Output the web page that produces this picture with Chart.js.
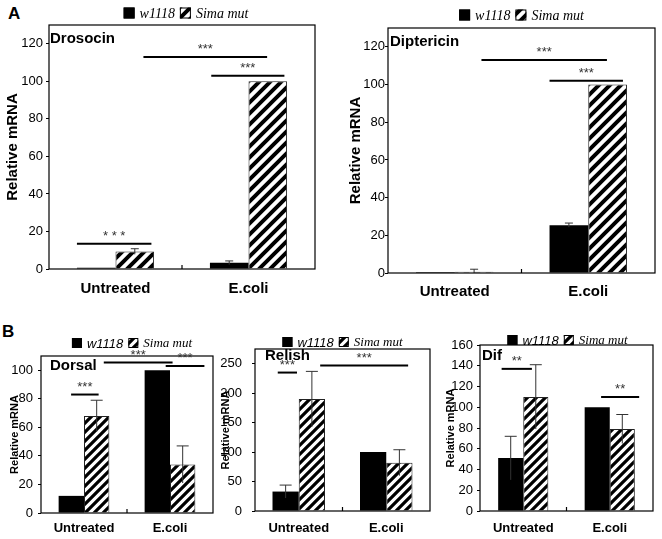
<!DOCTYPE html>
<html lang="en">
<head>
<meta charset="UTF-8">
<title>Relative mRNA</title>
<script src="https://cdn.jsdelivr.net/npm/chart.js"></script>
<style>
  body { margin: 0; background: #fff; }
  #wrap { position: relative; width: 662px; height: 539px; overflow: hidden; }
  canvas { position: absolute; }
  .tag { position: absolute; font: bold 17px "Liberation Sans", Arial, sans-serif; }
</style>
</head>
<body>
<div id="wrap">
  <div class="tag" style="left:8px;top:4px">A</div>
  <div class="tag" style="left:2px;top:322px">B</div>
  <canvas id="drosocin" width="330" height="300" style="left:0;top:0"></canvas>
  <canvas id="diptericin" width="319" height="300" style="left:343px;top:0"></canvas>
  <canvas id="dorsal" width="222" height="229" style="left:0;top:310px"></canvas>
  <canvas id="relish" width="222" height="229" style="left:219px;top:310px"></canvas>
  <canvas id="dif" width="218" height="229" style="left:444px;top:310px"></canvas>
</div>

<script>
// datos
const categories = ['Untreated', 'E.coli'];
const seriesNames = ['w1118', 'Sima mut'];

// panel A
const drosocinWt = [0.6, 3.3];
const drosocinWtErr = [0, 1.0];
const drosocinSima = [9.3, 100];
const drosocinSimaErr = [1.5, 0];
const drosocinSig = [[-0.29, 0.27, 13.4, '* * *'], [0.21, 1.14, 113, '***'], [0.72, 1.27, 103, '***']];

const diptericinWt = [0.5, 25.4];
const diptericinWtErr = [0, 1.1];
const diptericinSima = [0.7, 100];
const diptericinSimaErr = [1.3, 0];
const diptericinSig = [[0.20, 1.14, 113, '***'], [0.71, 1.26, 102, '***']];

// panel B
const dorsalWt = [12, 100];
const dorsalWtErr = [0, 0];
const dorsalSima = [68, 34];
const dorsalSimaErr = [11, 13];
const dorsalSig = [[-0.15, 0.17, 83, '***'], [0.23, 1.03, 105.5, '***'], [0.95, 1.40, 103, '***']];

const relishWt = [33, 100];
const relishWtErr = [11, 0];
const relishSima = [190, 82];
const relishSimaErr = [47, 22];
const relishSig = [[-0.24, -0.02, 235, '***'], [0.245, 1.25, 247, '***']];

const difWt = [51, 100];
const difWtErr = [21, 0];
const difSima = [110, 79];
const difSimaErr = [31, 14];
const difSig = [[-0.25, 0.10, 137, '**'], [0.90, 1.34, 110, '**']];

Chart.defaults.font.family = '"Liberation Sans", Arial, sans-serif';
Chart.defaults.color = '#000';

function hatch(size, width) {
  const c = document.createElement('canvas');
  c.width = size; c.height = size;
  const g = c.getContext('2d');
  g.fillStyle = '#fff';
  g.fillRect(0, 0, size, size);
  g.strokeStyle = '#000';
  g.lineWidth = width;
  g.beginPath();
  g.moveTo(0, size); g.lineTo(size, 0);
  g.moveTo(-size / 2, size / 2); g.lineTo(size / 2, -size / 2);
  g.moveTo(size / 2, size * 1.5); g.lineTo(size * 1.5, size / 2);
  g.stroke();
  return g.createPattern(c, 'repeat');
}

// barras de error, marco, asteriscos, titulo y leyenda
const decor = {
  id: 'decor',
  afterDatasetsDraw(chart, args, o) {
    const { ctx, chartArea: a, scales: { x, y } } = chart;
    ctx.save();

    chart.data.datasets.forEach((ds, i) => {
      chart.getDatasetMeta(i).data.forEach((bar, j) => {
        const e = ds.errors[j];
        if (!e) return;
        const v = ds.data[j];
        const top = y.getPixelForValue(v + e);
        const bot = y.getPixelForValue(Math.max(0, v - e));
        ctx.strokeStyle = '#333';
        ctx.lineWidth = 1;
        ctx.beginPath();
        ctx.moveTo(bar.x, bot); ctx.lineTo(bar.x, top);
        ctx.moveTo(bar.x - o.cap, top); ctx.lineTo(bar.x + o.cap, top);
        ctx.stroke();
      });
    });

    ctx.strokeStyle = '#000';
    ctx.lineWidth = 1.2;
    ctx.strokeRect(a.left, a.top, a.right - a.left, a.bottom - a.top);
    const mx = x.getPixelForValue(0.5);
    ctx.beginPath(); ctx.moveTo(mx, a.bottom); ctx.lineTo(mx, a.bottom - 4); ctx.stroke();

    ctx.lineWidth = 2;
    ctx.fillStyle = '#333';
    ctx.font = '13px "Liberation Sans", Arial';
    ctx.textAlign = 'center';
    ctx.textBaseline = 'bottom';
    o.sig.forEach(([x0, x1, v, t]) => {
      const p0 = x.getPixelForValue(x0), p1 = x.getPixelForValue(x1), py = y.getPixelForValue(v);
      ctx.beginPath(); ctx.moveTo(p0, py); ctx.lineTo(p1, py); ctx.stroke();
      ctx.fillText(t, (p0 + p1) / 2, py - 1);
    });

    ctx.fillStyle = '#000';
    ctx.font = 'bold 15px "Liberation Sans", Arial';
    ctx.textAlign = 'left';
    ctx.textBaseline = 'middle';
    ctx.fillText(o.name, a.left + o.nameDx, a.top + o.nameDy);

    // leyenda
    const items = chart.data.datasets.map((ds, i) => {
      ctx.font = o.legendFonts[i];
      return { ds, w: ctx.measureText(ds.label).width, font: o.legendFonts[i] };
    });
    const total = items.reduce((s, it) => s + o.box + 5 + it.w, 0) + 5 * (items.length - 1);
    let lx = (a.left + a.right) / 2 - total / 2 + o.legendDx;
    const ly = a.top - o.legendDy;
    items.forEach(it => {
      ctx.fillStyle = it.ds.backgroundColor;
      ctx.fillRect(lx, ly - o.box / 2, o.box, o.box);
      ctx.strokeStyle = '#000';
      ctx.lineWidth = 1;
      ctx.strokeRect(lx + 0.5, ly - o.box / 2 + 0.5, o.box - 1, o.box - 1);
      lx += o.box + 5;
      ctx.fillStyle = '#000';
      ctx.font = it.font;
      ctx.fillText(it.ds.label, lx, ly + 1);
      lx += it.w + 5;
    });
    ctx.restore();
  }
};

function panel(id, p) {
  const stripes = hatch(p.hatch, p.hatch * 0.36);
  new Chart(document.getElementById(id), {
    type: 'bar',
    data: {
      labels: categories,
      datasets: [
        { label: seriesNames[0], data: p.wt, errors: p.wtErr, backgroundColor: '#000', borderColor: '#000', borderWidth: 0,
          categoryPercentage: p.group, barPercentage: 1 },
        { label: seriesNames[1], data: p.sima, errors: p.simaErr, backgroundColor: stripes, borderColor: '#222', borderWidth: 1,
          categoryPercentage: p.group, barPercentage: 1 }
      ]
    },
    options: {
      responsive: false,
      animation: false,
      layout: { padding: { top: p.padTop, right: p.padRight, left: 0, bottom: 0 } },
      plugins: {
        legend: { display: false },
        tooltip: { enabled: false },
        decor: { sig: p.sig, cap: p.cap, name: p.name, nameDx: p.nameDx, nameDy: p.nameDy,
          legendFonts: p.legendFonts, box: p.box, legendDx: p.legendDx, legendDy: p.legendDy }
      },
      scales: {
        x: {
          grid: { display: false, drawTicks: false },
          border: { display: false },
          ticks: { font: { size: p.xSize, weight: 'bold' }, padding: p.xPad },
          afterFit: s => { s.height = p.xHeight; }
        },
        y: {
          min: 0, max: p.max,
          ticks: { stepSize: p.step, font: { size: 13 }, padding: p.yPad },
          grid: { drawOnChartArea: false, tickLength: 3, color: '#000' },
          border: { display: false },
          title: { display: true, text: 'Relative mRNA', font: { size: p.titleSize, weight: 'bold' },
            padding: { top: p.titlePad, bottom: 0 } },
          afterBuildTicks: s => { s.ticks = s.ticks.filter(t => t.value % p.step === 0); },
          afterFit: s => { s.width = p.yWidth; }
        }
      }
    },
    plugins: [decor]
  });
}

const fontsA = ['italic 14px "Liberation Serif", serif', 'italic 14px "Liberation Serif", serif'];
const fontsB = ['italic 13px "Liberation Sans", Arial', 'italic 13px "Liberation Serif", serif'];

panel('drosocin', { wt: drosocinWt, wtErr: drosocinWtErr, sima: drosocinSima, simaErr: drosocinSimaErr, sig: drosocinSig,
  name: 'Drosocin', nameDx: 1, nameDy: 14, max: 130, step: 20, padTop: 25, padRight: 15, yWidth: 49, xHeight: 31,
  xSize: 15, xPad: 11, yPad: 3, titleSize: 15, titlePad: 4, group: 0.58, hatch: 11, cap: 4,
  legendFonts: fontsA, box: 11, legendDx: 4, legendDy: 12 });

panel('diptericin', { wt: diptericinWt, wtErr: diptericinWtErr, sima: diptericinSima, simaErr: diptericinSimaErr, sig: diptericinSig,
  name: 'Diptericin', nameDx: 2, nameDy: 14, max: 130, step: 20, padTop: 28, padRight: 7, yWidth: 45, xHeight: 27,
  xSize: 15, xPad: 10, yPad: 0, titleSize: 15, titlePad: 4, group: 0.58, hatch: 11, cap: 4,
  legendFonts: fontsA, box: 11, legendDx: 0, legendDy: 13 });

panel('dorsal', { wt: dorsalWt, wtErr: dorsalWtErr, sima: dorsalSima, simaErr: dorsalSimaErr, sig: dorsalSig,
  name: 'Dorsal', nameDx: 9, nameDy: 10, max: 110, step: 20, padTop: 46, padRight: 9, yWidth: 41, xHeight: 26,
  xSize: 13, xPad: 8, yPad: 5, titleSize: 11, titlePad: 8, group: 0.59, hatch: 9, cap: 6,
  legendFonts: fontsB, box: 10, legendDx: 5, legendDy: 13 });

panel('relish', { wt: relishWt, wtErr: relishWtErr, sima: relishSima, simaErr: relishSimaErr, sig: relishSig,
  name: 'Relish', nameDx: 10, nameDy: 7, max: 275, step: 50, padTop: 39, padRight: 11, yWidth: 36, xHeight: 28,
  xSize: 13, xPad: 10, yPad: 10, titleSize: 11, titlePad: 0, group: 0.6, hatch: 9, cap: 6,
  legendFonts: fontsB, box: 10, legendDx: 0, legendDy: 7 });

panel('dif', { wt: difWt, wtErr: difWtErr, sima: difSima, simaErr: difSimaErr, sig: difSig,
  name: 'Dif', nameDx: 2, nameDy: 11, max: 160, step: 20, padTop: 35, padRight: 9, yWidth: 36, xHeight: 28,
  xSize: 13, xPad: 10, yPad: 4, titleSize: 11, titlePad: 0, group: 0.58, hatch: 9, cap: 6,
  legendFonts: fontsB, box: 10, legendDx: 1, legendDy: 5 });
</script>
</body>
</html>
